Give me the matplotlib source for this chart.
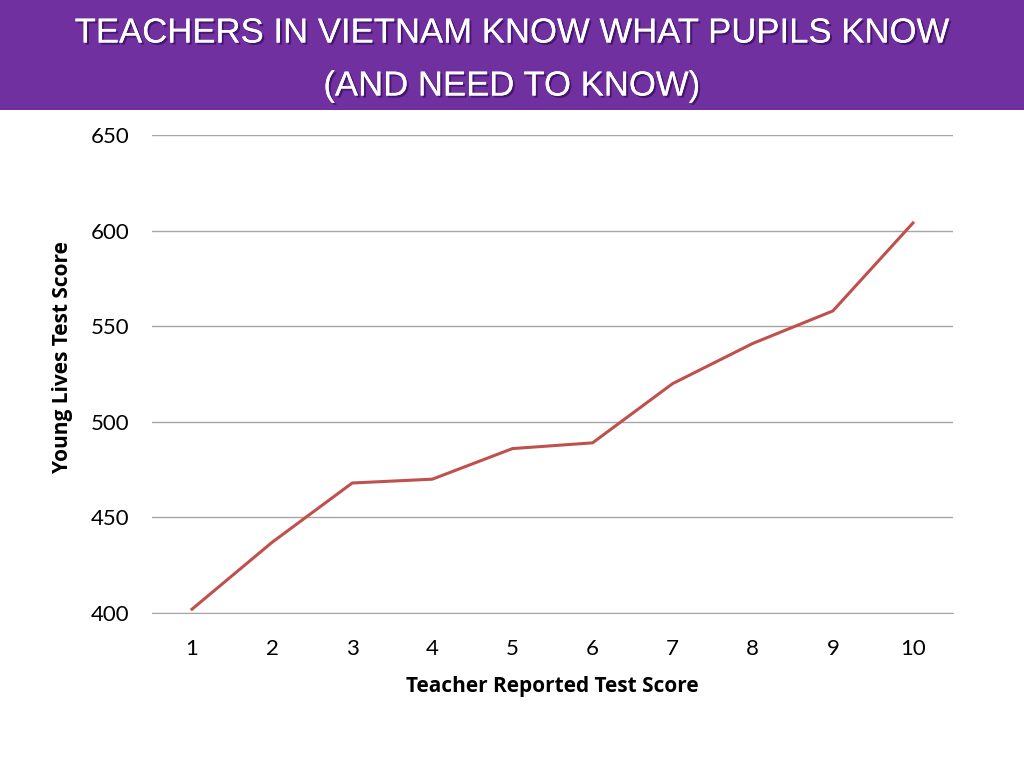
import matplotlib.pyplot as plt
import matplotlib.patheffects as pe
from matplotlib.patches import Rectangle

# data
teacher_score = [1, 2, 3, 4, 5, 6, 7, 8, 9, 10]
young_lives = [402, 437, 468, 470, 486, 489, 520, 541, 558, 604]
y_ticks = [400, 450, 500, 550, 600, 650]

title_lines = ["TEACHERS IN VIETNAM KNOW WHAT PUPILS KNOW", "(AND NEED TO KNOW)"]

fig = plt.figure(figsize=(10.24, 7.68), dpi=100)

# purple title band
fig.patches.append(Rectangle((0, 0.857), 1, 0.143, transform=fig.transFigure,
                             facecolor="#7030A0", edgecolor="none", zorder=0))
shadow = [pe.withSimplePatchShadow(offset=(1.5, -1.5), shadow_rgbFace="#3a1060", alpha=0.8), pe.Normal()]
fig.text(0.5, 0.957, title_lines[0], ha="center", va="center", color="white",
         fontsize=25, family="Liberation Sans", path_effects=shadow)
fig.text(0.5, 0.888, title_lines[1], ha="center", va="center", color="white",
         fontsize=25, family="Liberation Sans", path_effects=shadow)

ax = fig.add_axes([0.1484, 0.2018, 0.7823, 0.6224])
ax.plot(teacher_score, young_lives, color="#C0504D", linewidth=2.2)

ax.set_xlim(0.5, 10.5)
ax.set_ylim(400, 650)
ax.set_xticks(teacher_score)
ax.set_yticks(y_ticks)
ax.grid(axis="y", color="#a6a6a6", linewidth=1.0)
ax.set_axisbelow(True)
for s in ["top", "right", "left"]:
    ax.spines[s].set_visible(False)
ax.spines["bottom"].set_color("#a6a6a6")
ax.tick_params(axis="both", length=0, labelsize=16)
ax.tick_params(axis="x", pad=19)
ax.tick_params(axis="y", pad=16)
for lab in ax.get_xticklabels() + ax.get_yticklabels():
    lab.set_family("Lato")

ax.set_xlabel("Teacher Reported Test Score", fontsize=15, fontweight="bold", family="Open Sans", labelpad=12)
ax.set_ylabel("Young Lives Test Score", fontsize=15, fontweight="bold", family="Open Sans")
ax.yaxis.set_label_coords(-0.099, 0.535)

fig.savefig("out.png", dpi=100)
